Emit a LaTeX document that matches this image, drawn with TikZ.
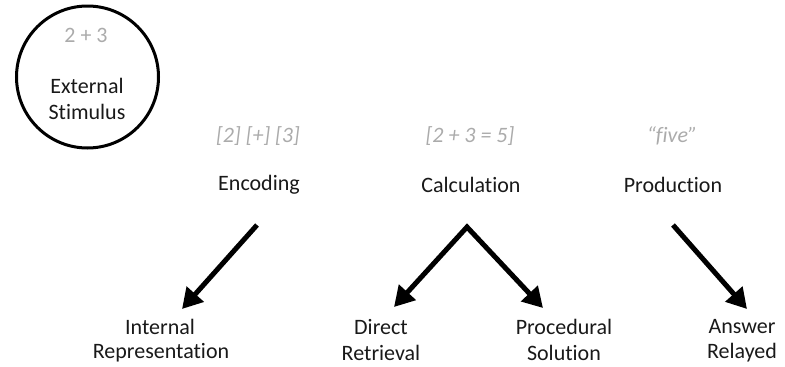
\documentclass[tikz,border=0pt]{standalone}
\usepackage{fontspec}
\setmainfont{Carlito}[Ligatures=CommonOff]
\usetikzlibrary{arrows.meta}
\definecolor{lightg}{HTML}{ABABAB}
\tikzset{
  lbl/.style={font=\fontsize{22}{26}\selectfont, inner sep=0pt, text=black!90},
  glbl/.style={font=\fontsize{22}{26}\selectfont\itshape, inner sep=0pt, text=lightg},
  arr/.style={line width=5pt, -{Triangle[length=20pt,width=22pt]}, line join=miter},
  barr/.style={line width=5pt, {Triangle[length=20pt,width=22pt]}-{Triangle[length=20pt,width=22pt]}, line join=miter}
}
\begin{document}
\begin{tikzpicture}[x=1pt,y=-1pt]
\useasboundingbox (0,0) rectangle (785,367);
\node[circle, draw, line width=3pt, minimum size=142pt] (stim) at (87.5,77) {};
\node[lbl, text=lightg] (two) at (86,35) {2 + 3};
\node[lbl] (ext) at (87,86) {External};
\node[lbl] (stm) at (87,112) {Stimulus};

\node[glbl] (encg) at (258,136) {[2] [+] [3]};
\node[lbl] (enc) at (259,185) {Encoding};
\node[glbl] (calg) at (470,136) {[2 + 3 = 5]};
\node[lbl] (cal) at (471,185) {Calculation};
\node[glbl] (prog) at (672,136) {“five”};
\node[lbl] (pro) at (673,185) {Production};

\node[lbl] (int1) at (160,327) {Internal};
\node[lbl] (int2) at (161,353) {Representation};
\node[lbl] (dir1) at (381,327) {Direct};
\node[lbl] (dir2) at (381,353) {Retrieval};
\node[lbl] (proc1) at (564,327) {Procedural};
\node[lbl] (proc2) at (564,353) {Solution};
\node[lbl] (ans1) at (742,327) {Answer};
\node[lbl] (ans2) at (742,353) {Relayed};

\coordinate (e0) at (257,225);
\coordinate (e1) at (182,309);
\coordinate (c0) at (467,227);
\coordinate (c1) at (394,307);
\coordinate (c2) at (543,308);
\coordinate (p0) at (673,225);
\coordinate (p1) at (747,309);

\draw[arr] (e0) -- (e1);
\draw[barr] (c1) -- (c0) -- (c2);
\draw[arr] (p0) -- (p1);
\end{tikzpicture}
\end{document}
